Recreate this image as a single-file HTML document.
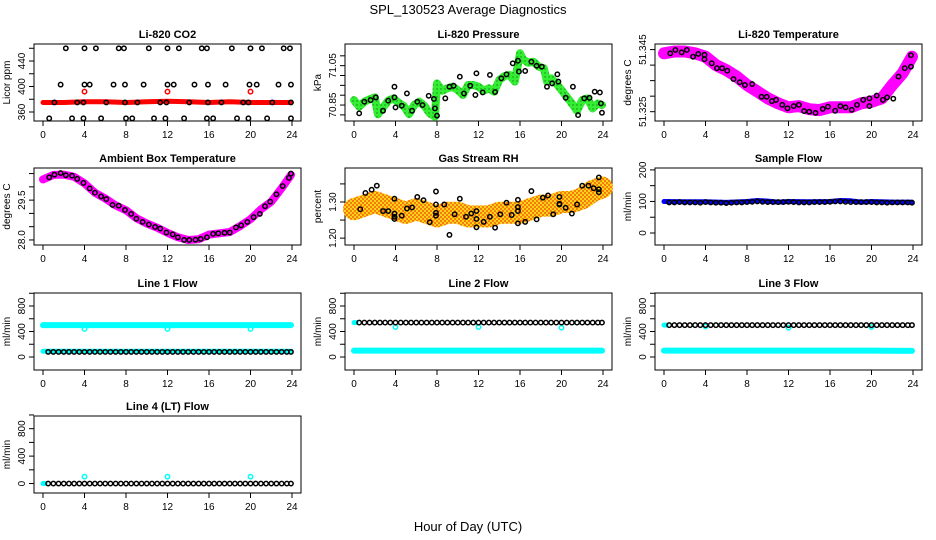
<!DOCTYPE html>
<html><head><meta charset="utf-8"><style>
body{margin:0;background:#fff;}
svg{display:block;font-family:"Liberation Sans",sans-serif;}
</style></head><body>
<svg id="chart" width="936" height="540" viewBox="0 0 936 540" xmlns="http://www.w3.org/2000/svg">
<defs>
<pattern id="rhpat" width="4" height="4" patternUnits="userSpaceOnUse"><rect width="4" height="4" fill="#ffd21a"/><circle cx="1" cy="1" r="0.9" fill="#f04000"/><circle cx="3" cy="3" r="0.9" fill="#f04000"/></pattern>
<pattern id="grpat" width="4" height="4" patternUnits="userSpaceOnUse"><rect width="4" height="4" fill="#33ee33"/><circle cx="1" cy="1" r="0.7" fill="#118811"/></pattern>
</defs>
<text x="468" y="14" text-anchor="middle" font-size="13">SPL_130523  Average Diagnostics</text>
<text x="468" y="531" text-anchor="middle" font-size="13">Hour of Day (UTC)</text>
</svg>
<script>
const xTicks=[0,4,8,12,16,20,24];
// CO2
const co2TopT=[2.2,4,5.1,7.3,7.8,10.2,12,13.1,15.3,15.8,18.2,20,21.1,23.2,23.8];
const co2MidT=[1.7,4,4.5,6.8,7.9,9.7,12,12.6,14.6,15.9,17.6,19.9,20.6,22.7,23.9];
const co2LowT=[1.1,3.3,3.9,6.1,7.9,9.1,11.3,11.9,14.1,15.9,17.2,19.3,19.8,22.1,23.9];
const co2BotT=[0.6,2.8,3.9,5.6,8,8.6,10.7,11.8,13.6,15.8,16.4,18.7,19.8,21.6,23.9];
const co2TopV=460,co2MidV=403,co2LowV=375,co2BotV=350;
const co2RedT=[0,2,4,6,8,10,12,14,16,18,20,22,23.9];
const co2RedV=[375,375,376,376,375,376,377,376,375,376,375,375,375];
const co2OutT=[4,12,20];
const co2OutV=[392,392,392];
// Pressure
const prBandT=[0,0.5,1,1.5,2,2.3,2.8,3.3,3.8,4.3,4.8,5.3,5.8,6.3,6.8,7.3,7.8,8,8.5,9,9.5,10,10.5,11,11.5,12,12.5,13,13.5,14,14.5,15,15.5,16,16.3,16.8,17.3,17.8,18.3,18.6,19,19.5,20,20.5,21,21.5,22,22.5,23,23.5,23.9];
const prBandV=[70.875,70.842,70.867,70.879,70.889,70.803,70.838,70.872,70.884,70.862,70.845,70.804,70.850,70.867,70.845,70.808,70.791,70.960,70.923,70.935,70.943,70.926,70.901,70.952,70.952,70.943,70.923,70.935,70.918,70.977,70.997,71.003,70.969,71.113,71.082,71.065,71.070,71.045,71.036,70.969,70.986,70.960,70.926,70.892,70.858,70.821,70.875,70.884,70.833,70.858,70.850];
const prT=[0.5,1,1.6,2.1,2.8,3.3,3.9,3.9,4,4.6,5.1,5.6,6.1,6.6,7.2,7.7,7.8,8,8.8,9.2,9.6,10.2,10.6,11.2,11.7,11.8,12.4,13.1,13.6,14.2,14.7,15.3,15.8,15.9,16.5,17.1,17.6,18.1,18.6,19.1,19.6,19.7,20.4,21.1,21.6,22.2,22.7,23.2,23.7,23.8,23.9];
const prV=[70.808,70.867,70.875,70.889,70.821,70.872,70.943,70.889,70.838,70.847,70.909,70.821,70.867,70.850,70.897,70.881,70.833,70.796,70.884,70.943,70.948,70.994,70.909,70.948,70.901,71.011,70.914,71.003,70.916,70.986,71.006,71.062,71.075,71.020,71.023,71.070,71.050,71.045,70.943,70.960,71.006,70.969,70.887,70.943,70.799,70.884,70.887,70.918,70.914,70.858,70.811];
// Li-820 temperature
const tmBandT=[0,1,2,3,4,5,6,7,8,9,10,11,12,13,14,15,16,17,18,19,20,21,22,23,23.9];
const tmBandV=[51.3438,51.3444,51.3444,51.3438,51.3427,51.3400,51.3384,51.3363,51.3336,51.3315,51.3293,51.3277,51.3264,51.3268,51.3258,51.3255,51.3264,51.3264,51.3264,51.3277,51.3282,51.3293,51.3336,51.3374,51.3427];
const tmT=[0.6,1.1,1.7,2.2,2.8,3.3,3.9,3.9,4.6,5.1,5.6,6.1,6.7,7.3,7.8,8.5,9.4,9.9,10.4,10.8,11.4,11.9,12.5,13,13.5,14,14.6,15.3,15.8,16.5,17,17.5,18.1,18.6,19.2,19.8,19.8,20.5,21.1,21.5,22.1,22.6,23.2,23.8,23.8];
const tmV=[51.3438,51.3449,51.3441,51.3449,51.3427,51.3436,51.3433,51.3419,51.3406,51.3390,51.3390,51.3382,51.3355,51.3345,51.3336,51.3339,51.3298,51.3298,51.3284,51.3288,51.3272,51.3261,51.3268,51.3272,51.3252,51.3250,51.3246,51.3259,51.3266,51.3253,51.3268,51.3264,51.3256,51.3272,51.3288,51.3293,51.3268,51.3302,51.3288,51.3296,51.3292,51.3363,51.3390,51.3395,51.3432];
// Ambient box temperature
const amBandT=[0,1,2,3,4,5,6,7,8,9,10,11,12,13,14,15,16,17,18,19,20,21,22,23,23.9];
const amBandV=[30.28,30.45,30.46,30.38,30.13,29.78,29.56,29.30,29.12,28.82,28.62,28.46,28.27,28.10,28.00,28.03,28.20,28.25,28.30,28.52,28.78,29.15,29.44,29.95,30.45];
const amT=[0.6,1.1,1.7,2.2,2.8,3.3,3.9,4.5,5,5.6,6.1,6.7,7.3,7.9,8.5,9,9.6,10.2,10.8,11.3,11.9,12.5,13,13.6,14.1,14.7,15.2,15.8,16.4,16.9,17.5,18,18.6,19.1,19.7,20.3,20.9,21.4,21.9,22.5,23.1,23.7,23.9];
const amV=[30.36,30.46,30.52,30.44,30.42,30.30,30.15,29.94,29.78,29.64,29.54,29.32,29.29,29.13,28.98,28.80,28.68,28.58,28.49,28.43,28.28,28.21,28.10,28.00,28.00,28.01,28.04,28.10,28.23,28.25,28.27,28.28,28.47,28.55,28.68,28.86,28.98,29.27,29.44,29.72,30.03,30.34,30.50];
// Gas stream RH
const rhBandT=[0,1,2,3,4,5,6,7,8,9,10,11,12,13,14,15,16,17,18,19,20,21,22,23,23.9];
const rhBandV=[1.28,1.29,1.30,1.29,1.28,1.27,1.28,1.27,1.26,1.27,1.27,1.26,1.26,1.26,1.27,1.27,1.27,1.28,1.29,1.29,1.30,1.30,1.31,1.33,1.34];
const rhT=[0.6,1.1,1.7,2.2,2.8,3.3,3.9,3.9,3.9,3.9,4.6,5.1,5.6,6.1,6.7,7.3,7.9,7.9,7.9,7.9,8.7,9.2,9.7,10.2,10.8,11.3,11.8,11.8,11.8,12.5,13.1,13.6,14.1,14.7,15.2,15.8,15.8,15.8,15.8,16.5,17.1,17.6,18.2,18.7,19.2,19.8,19.8,19.8,20.4,21,21.5,22,22.6,23.1,23.6,23.6,23.6];
const rhV=[1.280,1.325,1.334,1.345,1.275,1.275,1.309,1.259,1.253,1.268,1.262,1.282,1.285,1.314,1.305,1.244,1.329,1.293,1.270,1.262,1.293,1.209,1.266,1.309,1.259,1.268,1.275,1.253,1.230,1.245,1.259,1.229,1.266,1.298,1.264,1.306,1.286,1.275,1.241,1.245,1.330,1.252,1.312,1.318,1.266,1.314,1.295,1.293,1.284,1.268,1.293,1.345,1.345,1.338,1.368,1.335,1.327];
// Flows
const flowT=[0.5,1,1.5,2,2.5,3,3.5,4,4.5,5,5.5,6,6.5,7,7.5,8,8.5,9,9.5,10,10.5,11,11.5,12,12.5,13,13.5,14,14.5,15,15.5,16,16.5,17,17.5,18,18.5,19,19.5,20,20.5,21,21.5,22,22.5,23,23.5,23.9];
const sfV=[97,97,98,97,97,97,96,98,97,96,96,95,96,97,97,98,99,100,99,98,98,98,98,99,98,97,97,97,98,98,98,99,100,100,99,98,98,98,98,98,97,97,96,97,97,97,97,96];
const sfBandT=[0,2,4,6,8,9,10,11,12,14,16,17,18,19,20,22,23.9];
const sfBandV=[100,99,99,97,100,103,101,98,100,99,100,103,102,98,100,98,98];
const l1V=[80,80,80,80,80,80,80,80,80,80,80,80,80,80,80,80,80,80,80,80,80,80,80,80,80,80,80,80,80,80,80,80,80,80,80,80,80,80,80,80,80,80,80,80,80,80,80,80];
const l1HiT=[0,4,8,12,16,20,23.9],l1HiV=[500,500,500,500,500,500,500];
const l1LoT=[0,4,8,12,16,20,23.9],l1LoV=[90,90,90,90,90,90,90];
const l1OutT=[4,12,20],l1OutV=[440,440,440];
const l2V=[540,540,540,540,540,540,540,540,540,540,540,540,540,540,540,540,540,540,540,540,540,540,540,540,540,540,540,540,540,540,540,540,540,540,540,540,540,540,540,540,540,540,540,540,540,540,540,540];
const l2LoT=[0,4,8,12,16,20,23.9],l2LoV=[100,100,100,100,100,100,100];
const l2CyT=[0,0.2],l2CyV=[540,540];
const l2OutT=[4,12,20],l2OutV=[470,470,460];
const l3V=[500,500,500,500,500,500,500,500,500,500,500,500,500,500,500,500,500,500,500,500,500,500,500,500,500,500,500,500,500,500,500,500,500,500,500,500,500,500,500,500,500,500,500,500,500,500,500,500];
const l3LoT=[0,4,8,12,16,20,23.9],l3LoV=[100,100,100,100,100,100,95];
const l3CyT=[0,0.2],l3CyV=[500,500];
const l3OutT=[4,12,20],l3OutV=[480,460,470];
const l4V=[0,0,0,0,0,0,0,0,0,0,0,0,0,0,0,0,0,0,0,0,0,0,0,0,0,0,0,0,0,0,0,0,0,0,0,0,0,0,0,0,0,0,0,0,0,0,0,0];
const l4CyT=[0,0.2],l4CyV=[0,0];
const l4OutT=[4,12,20],l4OutV=[100,100,100];

const NS="http://www.w3.org/2000/svg";
const svg=document.getElementById('chart');
function mk(tag,attrs,parent){const e=document.createElementNS(NS,tag);for(const k in attrs)e.setAttribute(k,attrs[k]);(parent||svg).appendChild(e);return e;}

function panel(key,title,left,top,ylab,ymin,ymax,ticks,labels){
  const W=267,H=77,g=mk('g',{});
  
  
  const xs=t=>left+9+t/24*(W-18);
  const ys=v=>top+H-(v-ymin)/(ymax-ymin)*H;
  const bx=mk('rect',{x:left,y:top,width:W,height:H,fill:'none',stroke:'#000','stroke-width':1},g);
  
  
  const tt=mk('text',{x:left+W/2,y:top-6,'text-anchor':'middle','font-size':11,'font-weight':'bold'},g);tt.textContent=title;
  
  
  const yl=mk('text',{transform:`translate(${left-24},${top+H/2}) rotate(-90)`,'text-anchor':'middle','font-size':10},g);yl.textContent=ylab;
  
  
  for(const t of xTicks){
    const x=xs(t);
    mk('line',{x1:x,x2:x,y1:top+H,y2:top+H+5,stroke:'#000'},g);
    const tx=mk('text',{x:x,y:top+H+17,'text-anchor':'middle','font-size':10},g);tx.textContent=t;
    
    
  }
  for(const v of ticks){
    const y=ys(v);
    mk('line',{x1:left,x2:left-5,y1:y,y2:y,stroke:'#000'},g);
  }
  for(const v of labels){
    const y=ys(v);
    const tl=mk('text',{transform:`translate(${left-9},${y}) rotate(-90)`,'text-anchor':'middle','font-size':10},g);tl.textContent=v;
    
    
  }
  return {g,xs,ys,key};
}
function band(p,T,V,color,w,name){
  const pts=T.map((t,i)=>p.xs(t).toFixed(1)+','+p.ys(V[i]).toFixed(1)).join(' ');
  const l=mk('polyline',{points:pts,fill:'none',stroke:color,'stroke-width':w,'stroke-linecap':'round','stroke-linejoin':'round'},p.g);
  
  
}
function dots(p,T,V,color,name){
  T.forEach((t,i)=>{
    const v=Array.isArray(V)?V[i]:V;
    const c=mk('circle',{cx:p.xs(t),cy:p.ys(v),r:2.2,fill:'none',stroke:color,'stroke-width':1.5},p.g);
    
    
  });
}
const flowTicks=[0,200,400,600,800,1000],flowLabels=[0,400,800];

let p=panel('co2','Li-820 CO2',34,44,'Licor ppm',345.9,466.7,[360,380,400,420,440,460],[360,400,440]);
band(p,co2RedT,co2RedV,'#ff0000',5,'co2-band');
dots(p,co2OutT,co2OutV,'#ff0000','co2-outlier');
dots(p,co2TopT,co2TopV,'#000','point');dots(p,co2MidT,co2MidV,'#000','point');
dots(p,co2LowT,co2LowV,'#000','point');dots(p,co2BotT,co2BotV,'#000','point');

p=panel('pressure','Li-820 Pressure',345,44,'kPa',70.769,71.160,[70.8,70.85,70.9,70.95,71,71.05,71.1],[70.85,71.05]);
band(p,prBandT,prBandV,'url(#grpat)',8,'pressure-band');
dots(p,prT,prV,'#000','point');

p=panel('li820-temp','Li-820 Temperature',655,44,'degrees C',51.322,51.3468,[51.325,51.33,51.335,51.34,51.345],[51.325,51.345]);
band(p,tmBandT,tmBandV,'#ff00ff',12,'temp-band');
dots(p,tmT,tmV,'#000','point');

p=panel('ambient','Ambient Box Temperature',34,168,'degrees C',27.81,30.71,[28,28.5,29,29.5,30,30.5],[28.0,29.5]);
band(p,amBandT,amBandV,'#ff00ff',8,'ambient-band');
dots(p,amT,amV,'#000','point');
p.g.querySelectorAll('text').forEach(t=>{if(t.textContent==='28')t.textContent='28.0';});

p=panel('rh','Gas Stream RH',345,168,'percent',1.181,1.394,[1.2,1.25,1.3,1.35],[1.20,1.30]);
band(p,rhBandT,rhBandV,'url(#rhpat)',22,'rh-band');
dots(p,rhT,rhV,'#000','point');
p.g.querySelectorAll('text').forEach(t=>{if(t.textContent==='1.2')t.textContent='1.20';if(t.textContent==='1.3')t.textContent='1.30';});

p=panel('sample-flow','Sample Flow',655,168,'ml/min',-38,206,[0,50,100,150,200],[0,100,200]);
band(p,sfBandT,sfBandV,'#0000ff',5,'sample-band');
dots(p,flowT,sfV,'#000','point');

p=panel('line1','Line 1 Flow',34,293,'ml/min',-204,1004,flowTicks,flowLabels);
band(p,l1HiT,l1HiV,'#00ffff',6,'cyan-band-high');
band(p,l1LoT,l1LoV,'#00ffff',5,'cyan-band-low');
dots(p,l1OutT,l1OutV,'#00ffff','cyan-outlier');
dots(p,flowT,l1V,'#000','point');

p=panel('line2','Line 2 Flow',345,293,'ml/min',-204,1004,flowTicks,flowLabels);
band(p,l2LoT,l2LoV,'#00ffff',6,'cyan-band-low');
band(p,l2CyT,l2CyV,'#00ffff',5,'cyan-start');
dots(p,l2OutT,l2OutV,'#00ffff','cyan-outlier');
dots(p,flowT,l2V,'#000','point');

p=panel('line3','Line 3 Flow',655,293,'ml/min',-204,1004,flowTicks,flowLabels);
band(p,l3LoT,l3LoV,'#00ffff',6,'cyan-band-low');
band(p,l3CyT,l3CyV,'#00ffff',5,'cyan-start');
dots(p,l3OutT,l3OutV,'#00ffff','cyan-outlier');
dots(p,flowT,l3V,'#000','point');

p=panel('line4','Line 4 (LT) Flow',34,416,'ml/min',-138,985,flowTicks,flowLabels);
band(p,l4CyT,l4CyV,'#00ffff',5,'cyan-start');
dots(p,l4OutT,l4OutV,'#00ffff','cyan-outlier');
dots(p,flowT,l4V,'#000','point');
</script>
</body></html>
